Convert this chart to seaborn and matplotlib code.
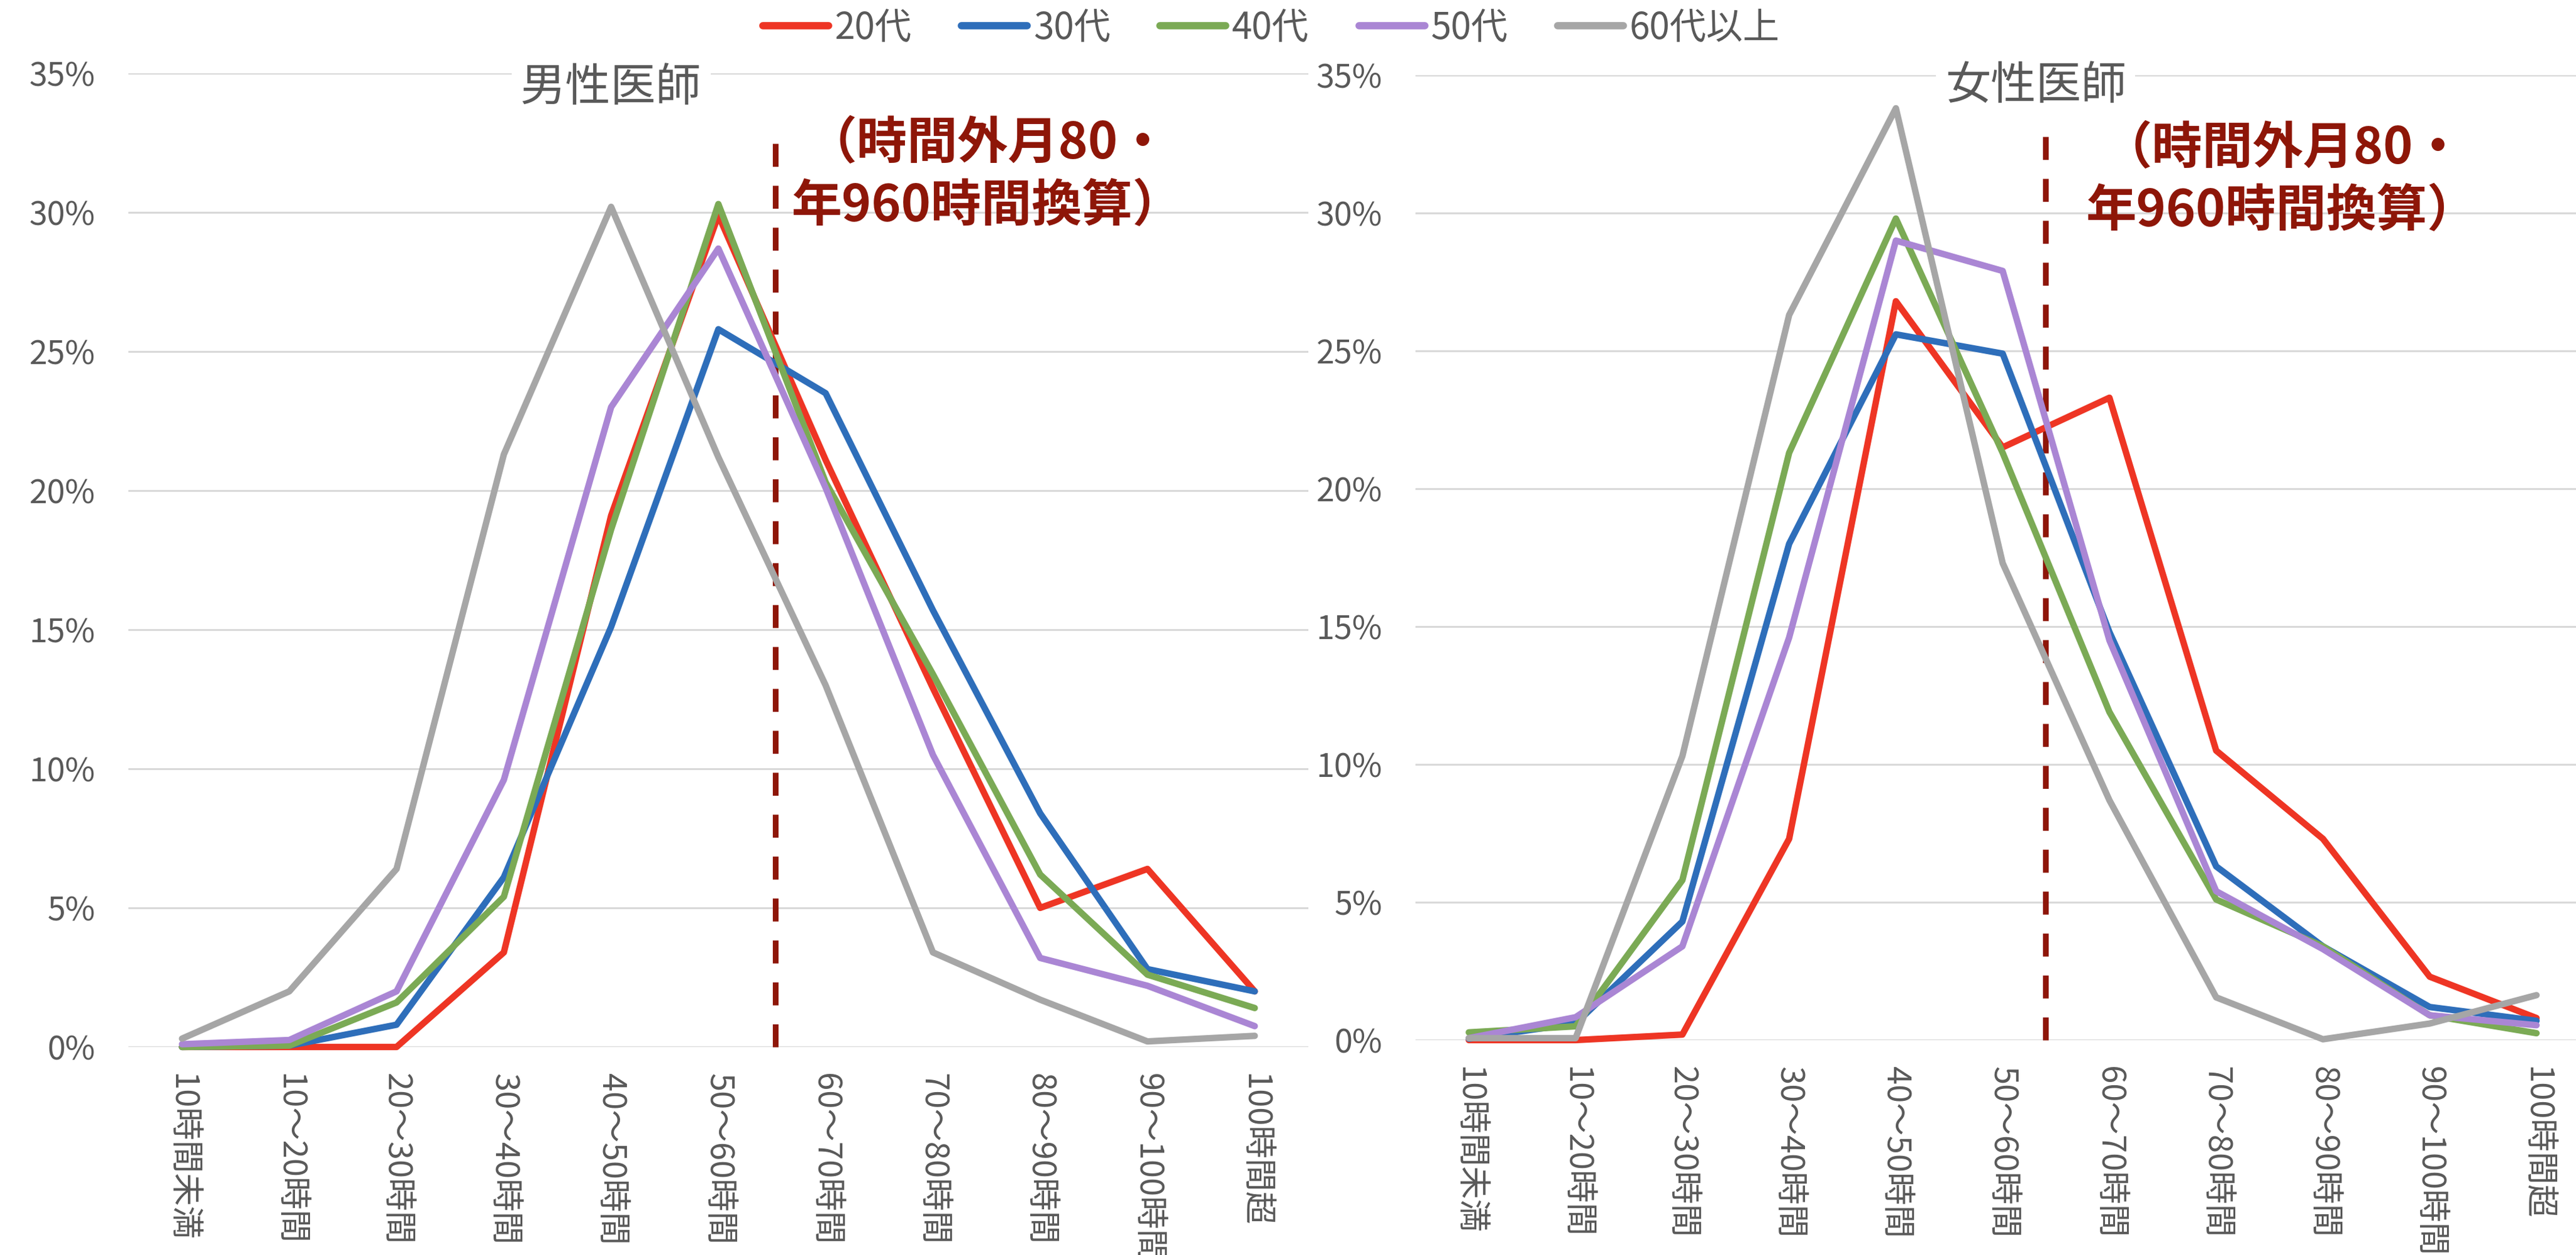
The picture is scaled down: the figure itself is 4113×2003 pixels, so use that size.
import numpy as np
import pandas as pd
import matplotlib
matplotlib.use("Agg")
import matplotlib.pyplot as plt
from matplotlib.lines import Line2D
from matplotlib.ticker import PercentFormatter, MultipleLocator
import seaborn as sns

# --- data (percent of doctors per weekly working-hours band) ---
categories = ["10時間未満", "10～20時間", "20～30時間", "30～40時間", "40～50時間",
              "50～60時間", "60～70時間", "70～80時間", "80～90時間", "90～100時間", "100時間超"]
age_groups = ["20代", "30代", "40代", "50代", "60代以上"]

male_20s = [0.0, 0.0, 0.0, 3.4, 19.1, 29.9, 21.1, 12.9, 5.0, 6.4, 2.0]
male_30s = [0.0, 0.05, 0.8, 6.1, 15.1, 25.8, 23.5, 15.7, 8.4, 2.8, 2.0]
male_40s = [0.0, 0.05, 1.6, 5.4, 18.6, 30.3, 20.3, 13.4, 6.2, 2.6, 1.4]
male_50s = [0.1, 0.25, 2.0, 9.6, 23.0, 28.7, 20.1, 10.5, 3.2, 2.2, 0.75]
male_60plus = [0.3, 2.0, 6.4, 21.3, 30.2, 21.2, 13.0, 3.4, 1.7, 0.2, 0.4]

female_20s = [0.0, 0.0, 0.2, 7.3, 26.8, 21.5, 23.3, 10.5, 7.3, 2.3, 0.8]
female_30s = [0.05, 0.6, 4.3, 18.0, 25.6, 24.9, 14.8, 6.3, 3.4, 1.2, 0.7]
female_40s = [0.28, 0.5, 5.8, 21.3, 29.8, 21.3, 11.9, 5.1, 3.4, 0.9, 0.25]
female_50s = [0.07, 0.83, 3.4, 14.6, 29.0, 27.9, 14.5, 5.4, 3.3, 0.9, 0.54]
female_60plus = [0.07, 0.07, 10.3, 26.3, 33.8, 17.3, 8.7, 1.55, 0.03, 0.6, 1.63]

panel_titles = ["男性医師", "女性医師"]
note_text = "（時間外月80・\n年960時間換算）"

colors = {"20代": "#EE3524", "30代": "#2E6EBA", "40代": "#7BAA55",
          "50代": "#AA86D4", "60代以上": "#A6A6A6"}
note_color = "#8E1608"
text_grey = "#595959"


def long_frame(series):
    rows = []
    for age, vals in zip(age_groups, series):
        for i, (cat, v) in enumerate(zip(categories, vals)):
            rows.append({"pos": i, "band": cat, "age": age, "value": v})
    return pd.DataFrame(rows)


male_df = long_frame([male_20s, male_30s, male_40s, male_50s, male_60plus])
female_df = long_frame([female_20s, female_30s, female_40s, female_50s, female_60plus])

# --- style ---
sns.set_style("white")
plt.rcParams["font.family"] = ["Noto Sans CJK JP", "DejaVu Sans"]

W, H, DPI = 4113, 2003, 200
fig = plt.figure(figsize=(W / DPI, H / DPI), dpi=DPI)

LW = 3.7
axes_specs = [
    dict(rect=[205 / W, 1 - 1671 / H, (2089 - 205) / W, (1671 - 117) / H], xmax=10.5,
         title_xy=(4.0, 34.48), note_xy=(7.51, 31.35), vline=5.53, df=male_df),
    dict(rect=[2260 / W, 1 - 1660 / H, (W - 2260) / W, (1660 - 120) / H], xmax=10.37,
         title_xy=(5.31, 34.6), note_xy=(7.62, 31.2), vline=5.4, df=female_df),
]

for spec, title in zip(axes_specs, panel_titles):
    ax = fig.add_axes(spec["rect"])
    sns.lineplot(data=spec["df"], x="pos", y="value", hue="age", hue_order=age_groups,
                 palette=colors, linewidth=LW, sort=False, legend=False, ax=ax)
    for ln in ax.get_lines():
        ln.set_clip_on(False)
        ln.set_solid_joinstyle("round")
        ln.set_solid_capstyle("round")

    ax.set_xlim(-0.5, spec["xmax"])
    ax.set_ylim(0, 35)
    ax.yaxis.set_major_locator(MultipleLocator(5))
    ax.yaxis.set_major_formatter(PercentFormatter(decimals=0))
    ax.set_xticks(range(len(categories)))
    ax.set_xticklabels(categories, rotation=-90, ha="center", va="top")
    ax.tick_params(axis="y", length=0, pad=19, labelsize=18.7, labelcolor=text_grey)
    ax.tick_params(axis="x", length=0, pad=15, labelsize=18.9, labelcolor=text_grey)
    ax.set_xlabel("")
    ax.set_ylabel("")
    for s in ax.spines.values():
        s.set_visible(False)
    ax.yaxis.grid(True, color="#D9D9D9", linewidth=1.1)
    ax.xaxis.grid(False)
    ax.set_axisbelow(True)

    # 80h/month overtime limit marker
    ax.plot([spec["vline"], spec["vline"]], [0, 32.8], color=note_color,
            linewidth=3.3, linestyle=(0, (4, 3.3)), clip_on=False, zorder=1.5)

    ax.text(*spec["title_xy"], title, ha="center", va="center", fontsize=26,
            color=text_grey, zorder=4,
            bbox=dict(boxstyle="square,pad=0.2", facecolor="white", edgecolor="none"))
    ax.text(*spec["note_xy"], note_text, ha="center", va="center", fontsize=29,
            fontweight="bold", color=note_color, linespacing=1.3,
            multialignment="center", zorder=4)

handles = [Line2D([0], [0], color=colors[a], linewidth=4.2,
                  solid_capstyle="round") for a in age_groups]
fig.legend(handles, age_groups, loc="center", bbox_to_anchor=(0.4935, 0.9775),
           ncol=5, frameon=False, fontsize=21, labelcolor=text_grey,
           handlelength=1.8, handletextpad=0.17, columnspacing=1.36)

fig.savefig("out.png", dpi=DPI, facecolor="white")
